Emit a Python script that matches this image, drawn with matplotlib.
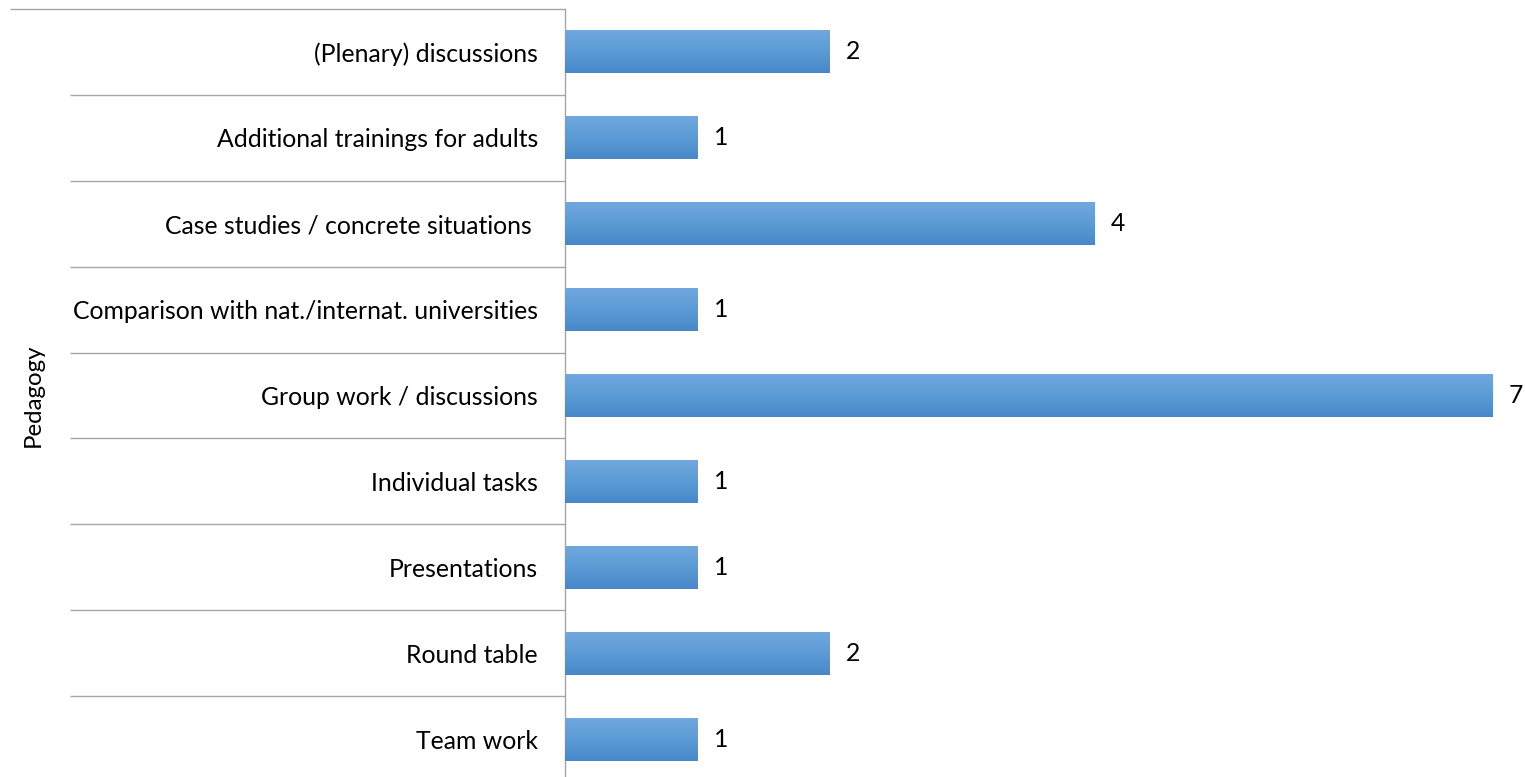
import numpy as np
import matplotlib
matplotlib.use("Agg")
import matplotlib.pyplot as plt
import matplotlib.transforms as mtrans
from matplotlib.colors import LinearSegmentedColormap

categories = [
    "(Plenary) discussions",
    "Additional trainings for adults",
    "Case studies / concrete situations ",
    "Comparison with nat./internat. universities",
    "Group work / discussions",
    "Individual tasks",
    "Presentations",
    "Round table",
    "Team work",
]
values = [2, 1, 4, 1, 7, 1, 1, 2, 1]
group_label = "Pedagogy"

plt.rcParams['font.family'] = ['Lato', 'DejaVu Sans']

W, H = 1525, 777
fig = plt.figure(figsize=(W / 100, H / 100), dpi=100)
ax_left_px, ax_right_px, ax_top_px, ax_bottom_px = 565, 1492.5, 9, 782
ax = fig.add_axes([ax_left_px / W, (H - ax_bottom_px) / H,
                   (ax_right_px - ax_left_px) / W, (ax_bottom_px - ax_top_px) / H])
n = len(categories)
ypos = np.arange(n)

bars = ax.barh(ypos, values, height=0.5, color='#5B9BD5', zorder=2)
cmap = LinearSegmentedColormap.from_list('g', ['#71A8DE', '#5B9BD5', '#4888C9'])
grad = np.linspace(0, 1, 100).reshape(-1, 1)
for bar, y, v in zip(bars, ypos, values):
    im = ax.imshow(grad, cmap=cmap, aspect='auto', origin='upper',
                   extent=(0, v, y + 0.25, y - 0.25), zorder=3)
    im.set_clip_path(bar)

ax.set_xlim(0, 7)
ax.set_ylim(n - 0.5, -0.5)
ax.set_aspect('auto')

for s in ['top', 'right', 'bottom']:
    ax.spines[s].set_visible(False)
ax.spines['left'].set_color('#A6A6A6')
ax.spines['left'].set_linewidth(1.0)
ax.set_xticks([])
ax.set_yticks(ypos)
ax.set_yticklabels(categories, fontsize=17.8, color='black')
ax.tick_params(axis='y', length=0, pad=19.5)

for y, v in zip(ypos, values):
    ax.annotate(str(v), xy=(v, y), xytext=(11.5, 0), textcoords='offset points',
                va='center', ha='left', fontsize=17.8, color='black', annotation_clip=False)

tr = mtrans.blended_transform_factory(ax.transAxes, ax.transData)
sep_x0 = (70 - ax_left_px) / (ax_right_px - ax_left_px)
top_x0 = (10 - ax_left_px) / (ax_right_px - ax_left_px)
for b in range(1, n):
    ax.plot([sep_x0, 0], [b - 0.5, b - 0.5], color='#A6A6A6', lw=1.0,
            transform=tr, clip_on=False, solid_capstyle='butt')
ax.plot([top_x0, 0], [-0.5, -0.5], color='#A6A6A6', lw=1.0,
        transform=tr, clip_on=False, solid_capstyle='butt')

fig.text(33 / W, 1 - 395 / H, group_label, rotation=90, ha='center', va='center',
         fontsize=17.3, color='black')

fig.savefig('out.png', dpi=100)
